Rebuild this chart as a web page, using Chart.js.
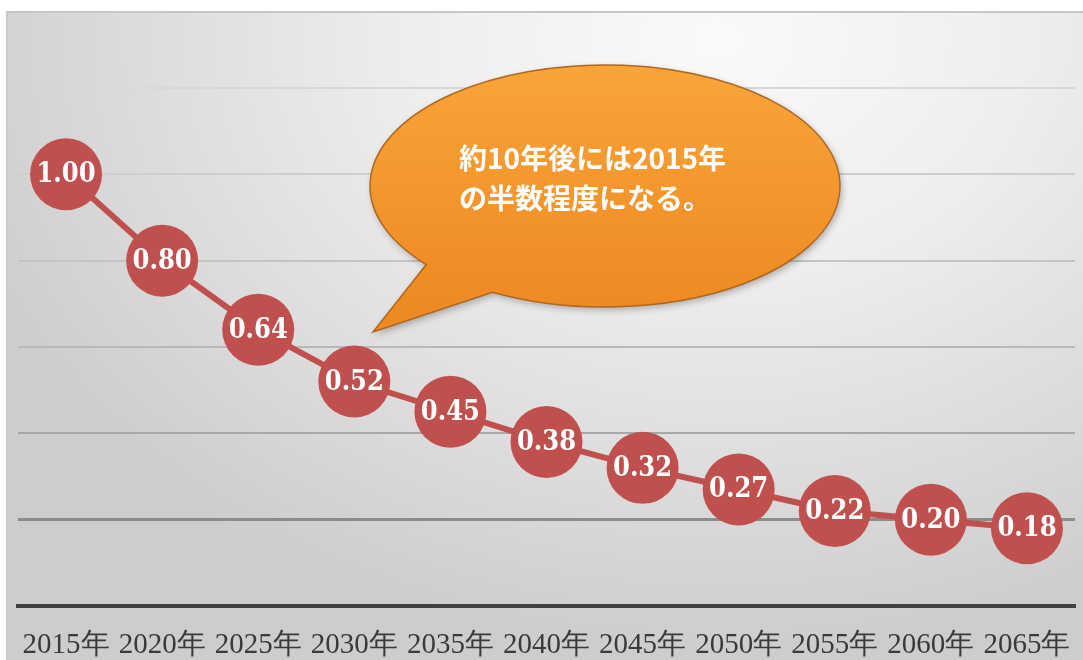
<!DOCTYPE html>
<html>
<head>
<meta charset="utf-8">
<script src="https://cdn.jsdelivr.net/npm/chart.js@4/dist/chart.umd.min.js"></script>
<style>
  html, body { margin: 0; padding: 0; background: #fff; }
  #wrap { position: relative; width: 1083px; height: 660px; overflow: hidden; }
  #bg {
    position: absolute; left: 6px; top: 11px; right: 0; bottom: 0;
    border-top: 2px solid #c6c6c6; border-left: 2px solid #cbcbcb;
    background: radial-gradient(ellipse 75% 95% at 66% 4%, #fafafa 0%, #eeeeee 38%, #dddddd 70%, #cdcdcd 100%);
  }
  #predictionChart { position: absolute; left: 0; top: 0; }
</style>
</head>
<body>
<div id="wrap">
  <div id="bg"></div>
  <canvas id="predictionChart" width="1083" height="660"></canvas>
</div>
<script>
// chart data
const years = ['2015年', '2020年', '2025年', '2030年', '2035年', '2040年', '2045年', '2050年', '2055年', '2060年', '2065年'];
const ratio = [1.00, 0.80, 0.64, 0.52, 0.45, 0.38, 0.32, 0.27, 0.22, 0.20, 0.18];
const calloutLines = ['約10年後には2015年', 'の半数程度になる。'];

const red = '#c0504d';

// grid gets a bit darker toward the bottom
function gridColor(ctx) {
    const v = Math.round(ctx.tick.value * 10) / 10;
    if (v === 0) return 'rgba(0,0,0,0)';
    if (v === 0.2) return '#8c8c8c';
    const shades = { 0.4: '#a8a8a8', 0.6: '#b8b8b8', 0.8: '#c4c4c4', 1: '#cecece', 1.2: '#d8d8d8' };
    return shades[v] || '#cccccc';
}

// white value text inside each circle
const valueLabels = {
    id: 'valueLabels',
    afterDatasetsDraw(chart) {
        const c = chart.ctx;
        const meta = chart.getDatasetMeta(0);
        c.save();
        c.fillStyle = '#ffffff';
        c.font = 'bold 27px "DejaVu Serif Condensed", "DejaVu Serif"';
        c.textAlign = 'center';
        c.textBaseline = 'middle';
        meta.data.forEach((pt, i) => {
            c.fillText(ratio[i].toFixed(2), pt.x, pt.y + 1);
        });
        c.restore();
    }
};

// orange speech bubble
const callout = {
    id: 'callout',
    afterDraw(chart) {
        const c = chart.ctx;
        const cx = 605, cy = 186, rx = 235, ry = 121;
        const a1 = 139.5 * Math.PI / 180, a2 = 118.6 * Math.PI / 180;
        c.save();
        c.beginPath();
        c.ellipse(cx, cy, rx, ry, 0, a1, a2 + Math.PI * 2, false);
        c.lineTo(373, 332);
        c.closePath();
        const g = c.createLinearGradient(0, cy - ry, 0, cy + ry);
        g.addColorStop(0, '#f9a43a');
        g.addColorStop(1, '#ee8a22');
        c.shadowColor = 'rgba(0,0,0,0.28)';
        c.shadowBlur = 7;
        c.shadowOffsetX = 2;
        c.shadowOffsetY = 3;
        c.fillStyle = g;
        c.fill();
        c.shadowColor = 'rgba(0,0,0,0)';
        c.strokeStyle = '#b0671f';
        c.lineWidth = 1.5;
        c.stroke();
        c.fillStyle = '#ffffff';
        c.font = 'bold 28px "Noto Sans CJK JP"';
        c.textAlign = 'left';
        c.textBaseline = 'middle';
        c.fillText(calloutLines[0], 459, 158);
        c.fillText(calloutLines[1], 459, 198);
        c.restore();
    }
};

const ctx = document.getElementById('predictionChart').getContext('2d');
const chart = new Chart(ctx, {
    type: 'line',
    data: {
        labels: years,
        datasets: [{
            data: ratio,
            borderColor: red,
            borderWidth: 6,
            pointRadius: 36,
            pointHoverRadius: 36,
            pointBorderWidth: 0,
            pointBackgroundColor: red,
            tension: 0,
            fill: false,
            clip: false
        }]
    },
    options: {
        responsive: false,
        animation: false,
        layout: { autoPadding: false, padding: { left: 18, right: 8, top: 88, bottom: 0 } },
        plugins: {
            legend: { display: false },
            tooltip: { enabled: false }
        },
        scales: {
            x: {
                offset: true,
                grid: { display: false, drawTicks: false },
                border: { color: '#404040', width: 4 },
                ticks: {
                    color: '#3a3a3a',
                    // tall line box pushes the labels down instead of tick padding
                    font: { family: '"Liberation Serif", serif', size: 29, lineHeight: 2.7 },
                    padding: 0,
                    maxRotation: 0,
                    autoSkip: false
                },
                afterFit: s => {
                    s.height = 54;
                    s.paddingLeft = 0;
                    s.paddingRight = 0;
                }
            },
            y: {
                min: 0,
                max: 1.2,
                ticks: { display: false, stepSize: 0.2 },
                grid: { color: gridColor, lineWidth: c => (Math.round(c.tick.value * 10) === 2 ? 3 : 2), drawTicks: false },
                border: { display: false },
                afterFit: s => { s.width = 0; }
            }
        }
    },
    plugins: [valueLabels, callout]
});
</script>
</body>
</html>
